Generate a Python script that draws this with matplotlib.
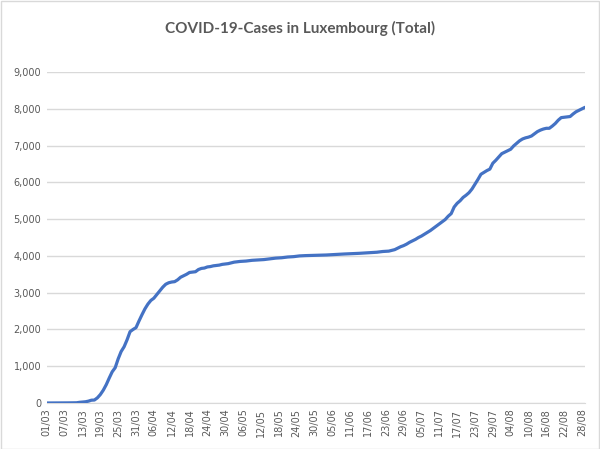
import datetime as dt

import numpy as np
import matplotlib
matplotlib.use('Agg')
import matplotlib.pyplot as plt
from matplotlib.patches import Rectangle

# Total cases per day (01/03 .. 29/08).
march = [1, 1, 1, 1, 2, 3, 3, 4, 5, 7, 7, 19, 26, 34, 51, 77, 81, 140,
         230, 350, 500, 680, 850, 960, 1200, 1400, 1530, 1720, 1940, 2000,
         2050]
april = [2230, 2400, 2560, 2690, 2790, 2850, 2950, 3050, 3150, 3230, 3270,
         3290, 3300, 3350, 3420, 3460, 3500, 3550, 3560, 3570, 3630, 3660,
         3670, 3700, 3710, 3730, 3740, 3750, 3770, 3780]
may = [3790, 3810, 3830, 3840, 3850, 3855, 3860, 3870, 3880, 3885, 3890,
       3895, 3900, 3910, 3920, 3930, 3940, 3945, 3950, 3960, 3970, 3975,
       3980, 3990, 4000, 4005, 4008, 4010, 4012, 4015, 4018]
june = [4020, 4022, 4025, 4030, 4035, 4040, 4045, 4048, 4052, 4055, 4058,
        4062, 4065, 4070, 4075, 4080, 4085, 4090, 4095, 4100, 4110, 4120,
        4125, 4130, 4150, 4170, 4210, 4250, 4280, 4320]
july = [4370, 4410, 4450, 4500, 4540, 4590, 4640, 4690, 4750, 4810, 4870,
        4930, 4990, 5080, 5150, 5330, 5430, 5500, 5590, 5650, 5720, 5820,
        5950, 6080, 6220, 6270, 6320, 6360, 6520, 6600, 6690]
august = [6780, 6820, 6860, 6900, 6990, 7060, 7130, 7180, 7210, 7230, 7260,
          7320, 7380, 7420, 7450, 7470, 7470, 7530, 7600, 7690, 7760, 7770,
          7780, 7790, 7860, 7920, 7960, 8000, 8040]

cases = np.array(march + april + may + june + july + august)
start = dt.date(2020, 3, 1)
labels = [(start + dt.timedelta(days=i)).strftime('%d/%m')
          for i in range(cases.size)]
yticks = np.arange(0, 9001, 1000)

txtcol = '#595959'
gridcol = '#d9d9d9'

fig = plt.figure(figsize=(6, 4.49), dpi=100)
ax = fig.add_axes([0.078, 0.1024, 0.897, 0.7372])

x = np.arange(cases.size)
ax.plot(x, cases, color='#4472C4', lw=2.3, solid_capstyle='round',
        zorder=3)

ax.set_xlim(0, cases.size - 1)
ax.set_ylim(0, 9000)
ax.set_yticks(yticks)
ax.set_yticklabels([f'{v:,}' for v in yticks])
ax.set_xticks(x[::6])
ax.set_xticklabels(labels[::6], rotation=90)
ax.grid(axis='y', color=gridcol, lw=1)
ax.set_axisbelow(True)
ax.tick_params(length=0, labelsize=7, labelcolor=txtcol, pad=4)
for s in ('top', 'right', 'left'):
    ax.spines[s].set_visible(False)
ax.spines['bottom'].set_color(gridcol)

fig.text(0.5, 0.937, 'COVID-19-Cases in Luxembourg (Total)', ha='center',
         va='center', fontsize=11, color=txtcol, family='Lato',
         weight='bold')

# Light chart border like the spreadsheet frame.
fig.patches.append(Rectangle((0.001, 0.001), 0.997, 0.997,
                             transform=fig.transFigure, fill=False,
                             edgecolor=gridcol, lw=1))

fig.savefig('out.png', dpi=100)
